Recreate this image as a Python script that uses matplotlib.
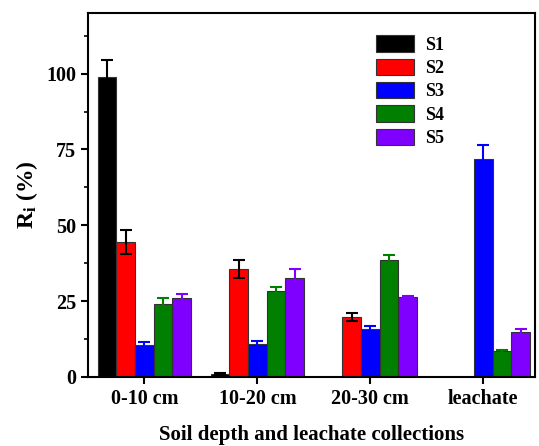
import matplotlib.pyplot as plt
import numpy as np

plt.rcParams['font.family'] = ['Liberation Serif', 'DejaVu Serif']
plt.rcParams['font.weight'] = 'bold'
plt.rcParams['mathtext.fontset'] = 'custom'
plt.rcParams['mathtext.rm'] = 'Liberation Serif:bold'
plt.rcParams['mathtext.it'] = 'Liberation Serif:bold'

#-----Data-----#
groups = ["0-10 cm", "10-20 cm", "20-30 cm", "leachate"]
series = ["S1", "S2", "S3", "S4", "S5"]
S1 = [99.0, 1.0, 0.0, 0.0]
S2 = [44.5, 35.5, 19.7, 0.0]
S3 = [10.5, 10.9, 15.8, 72.0]
S4 = [24.0, 28.4, 38.7, 8.5]
S5 = [26.0, 32.6, 26.4, 14.8]
S1_err = [5.5, 0.3, 0.0, 0.0]
S2_err = [4.0, 3.0, 1.3, 0.0]
S3_err = [1.0, 1.0, 1.0, 4.5]
S4_err = [2.0, 1.2, 1.5, 0.5]
S5_err = [1.3, 3.0, 0.3, 1.0]

values = [S1, S2, S3, S4, S5]
errors = [S1_err, S2_err, S3_err, S4_err, S5_err]
colors = ["#000000", "#ff0000", "#0000ff", "#007f00", "#7f00ff"]
err_colors = ["#000000", "#000000", "#0000ff", "#007f00", "#7f00ff"]

#-----Plot-----#
fig = plt.figure(figsize=(5.39, 4.46), dpi=100)
ax = fig.add_axes([0.163, 0.155, 0.830, 0.816])

x = np.arange(len(groups))
width = 0.165
for i, name in enumerate(series):
    pos = x + (i - 2) * width
    ax.bar(pos, values[i], width, color=colors[i], edgecolor="#333333",
           linewidth=0.8, label=name, zorder=2)
    mask = np.array(values[i]) > 0
    ax.errorbar(pos[mask], np.array(values[i])[mask], yerr=np.array(errors[i])[mask],
                fmt='none', ecolor=err_colors[i], elinewidth=1.5, capsize=4,
                capthick=1.5, zorder=3)

ax.set_xlim(-0.5, 3.46)
ax.set_ylim(0, 120)
ax.set_yticks([0, 25, 50, 75, 100])
ax.set_yticks(np.arange(12.5, 120, 25), minor=True)
ax.set_xticks(x)
ax.set_xticklabels(groups)
ax.tick_params(axis='both', which='major', direction='out', length=5, width=1.5,
               labelsize=14.5, top=False, right=False)
ax.tick_params(axis='y', which='minor', direction='out', length=3, width=1.2)
for s in ax.spines.values():
    s.set_linewidth(1.5)

ax.set_xlabel("Soil depth and leachate collections", fontsize=15, fontweight='bold', labelpad=12)
ax.set_ylabel(r"R$_\mathrm{i}$ (%)", fontsize=17, fontweight='bold', labelpad=4)

ax.legend(loc='upper left', bbox_to_anchor=(0.628, 0.958), frameon=False,
          fontsize=13, handlelength=2.1, handleheight=1.0, labelspacing=0.28,
          handletextpad=0.6, borderaxespad=0)

fig.savefig("out.png", dpi=100)
